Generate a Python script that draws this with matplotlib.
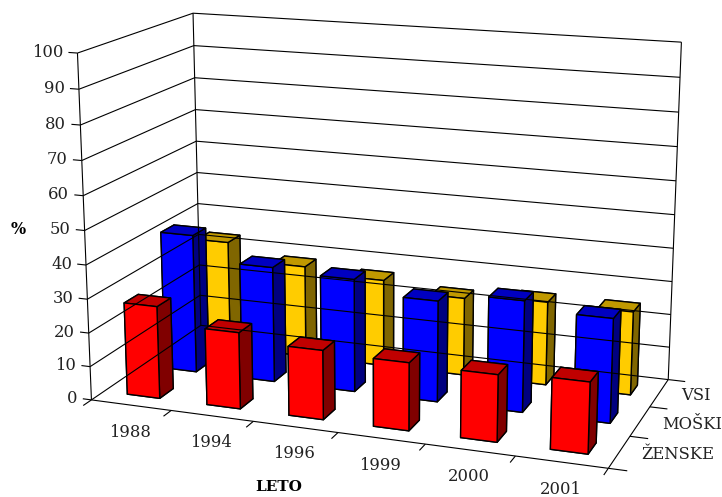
import numpy as np
import matplotlib
matplotlib.use('Agg')
import matplotlib.pyplot as plt
from mpl_toolkits.mplot3d import proj3d

# --- data ---
years = ['1988', '1994', '1996', '1999', '2000', '2001']
series_names = ['ŽENSKE', 'MOŠKI', 'VSI']
zenske = [27.4, 22.5, 20.2, 19.6, 19.2, 20.2]
moski = [41.9, 34.7, 33.7, 29.9, 32.7, 30.3]
vsi = [33.4, 28.2, 26.5, 23.6, 25.1, 24.9]
z_ticks = [0, 10, 20, 30, 40, 50, 60, 70, 80, 90, 100]

# (front, top, side) colours of each series
colors = {
    'ŽENSKE': ('#ff0000', '#c00000', '#800000'),
    'MOŠKI': ('#0000ff', '#0000c0', '#000080'),
    'VSI': ('#ffcc00', '#c09900', '#806600'),
}

plt.rcParams['font.family'] = 'DejaVu Serif'

W, H = 722, 497
S = 670.5
fig = plt.figure(figsize=(W / 100, H / 100), dpi=100)
ax = fig.add_axes([39.7 / W, -69.8 / H, S / W, S / H], projection='3d')
ax.set_proj_type('persp', focal_length=0.55)
ax.view_init(elev=15, azim=-70)
ax.set_box_aspect((535, 260, 355))
ax.computed_zorder = False
ax.set_axis_off()

nx, ny = len(years), len(series_names)
ax.set_xlim(0, nx)
ax.set_ylim(0, ny)
ax.set_zlim(0, 100)

line = dict(color='black', lw=0.8, solid_capstyle='butt')


def label(x, y, z, s, dx=0, dy=0, **kw):
    # flat text at the projected position of a 3d point, shifted by some pixels
    px, py, _ = proj3d.proj_transform(x, y, z, ax.get_proj())
    ax.annotate(s, xy=(px, py), xycoords='data', xytext=(dx, dy), textcoords='offset pixels',
                fontsize=11.8, color='#222222', va='center', annotation_clip=False, **kw)


# walls: grid lines on the left and back side
for v in z_ticks:
    ax.plot([0, 0, nx], [0, ny, ny], [v, v, v], **line)
ax.plot([0, 0], [0, 0], [0, 100], **line)
ax.plot([0, 0], [ny, ny], [0, 100], **line)
ax.plot([nx, nx], [ny, ny], [0, 100], **line)

# floor outline
ax.plot([0, nx, nx], [0, 0, ny], [0, 0, 0], **line)

# tick marks and labels
for v in z_ticks:
    ax.plot([-0.11, 0], [0, 0], [v, v], **line)
    label(0, 0, v, str(v), dx=-14, dy=1, ha='right')
for i in range(nx + 1):
    ax.plot([i, i], [-0.2, 0], [0, 0], **line)
for i, year in enumerate(years):
    label(i + 0.5, 0, 0, year, dx=-1, dy=-27, ha='center')
for j in range(ny + 1):
    ax.plot([nx, nx + 0.2], [j, j], [0, 0], **line)
for j, name in enumerate(series_names):
    label(nx, j + 0.5, 0, name, dx=22, dy=-3, ha='left')

# bars from the back row to the front, left to right
bar_w, bar_d = 0.41, 0.36
rows = list(zip(series_names, [zenske, moski, vsi]))
for j, (name, values) in reversed(list(enumerate(rows))):
    front, top, side = colors[name]
    # face order used by bar3d: bottom, top, -y, +y, -x, +x
    face_colors = [front, top, front, front, side, side]
    for i, val in enumerate(values):
        ax.bar3d(i + 0.5 - bar_w / 2, j + 0.5 - bar_d / 2, 0, bar_w, bar_d, val,
                 color=face_colors, edgecolor='black', linewidth=1.0, shade=False)

fig.text(18.5 / W, 1 - 229 / H, '%', fontsize=11.5, fontweight='bold', ha='center', va='center')
fig.text(279 / W, 1 - 487 / H, 'LETO', fontsize=11, fontweight='bold', ha='center', va='center')

fig.savefig('out.png', dpi=100)
